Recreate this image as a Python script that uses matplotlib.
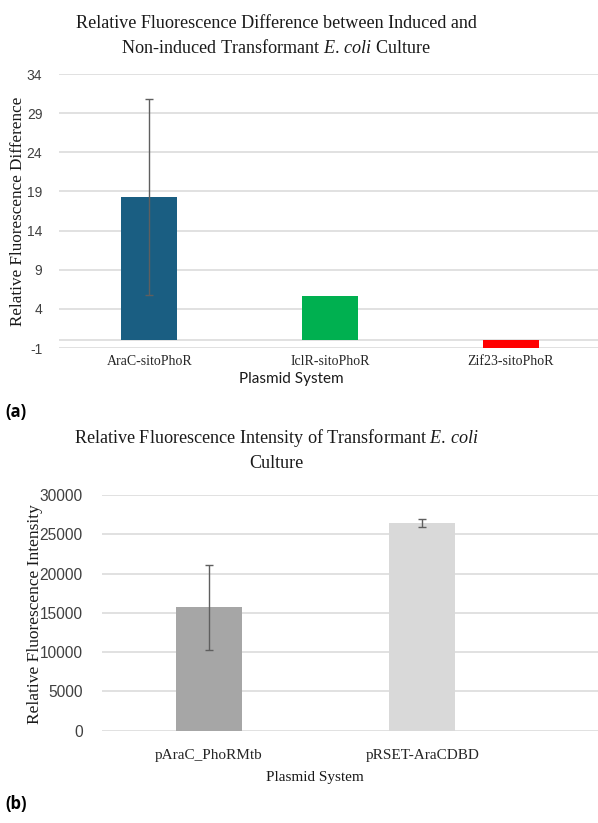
import numpy as np
import matplotlib.pyplot as plt

plt.rcParams['mathtext.fontset'] = 'custom'
plt.rcParams['mathtext.rm'] = 'Liberation Serif'
plt.rcParams['mathtext.it'] = 'Liberation Serif:italic'
plt.rcParams['axes.unicode_minus'] = False

# panel (a)
systems_a = ['AraC-sitoPhoR', 'IclR-sitoPhoR', 'Zif23-sitoPhoR']
diff_a = [18.3, 5.7, -0.95]
err_a = [12.5, 0, 0]
colors_a = ['#1a5e82', '#00b050', '#ff0000']
yticks_a = [-1, 4, 9, 14, 19, 24, 29, 34]

# panel (b)
systems_b = ['pAraC_PhoRMtb', 'pRSET-AraCDBD']
intensity_b = [15700, 26400]
err_b = [5450, 490]
colors_b = ['#a6a6a6', '#d9d9d9']
yticks_b = [0, 5000, 10000, 15000, 20000, 25000, 30000]

W, H = 598, 823
fig = plt.figure(figsize=(W / 100, H / 100), dpi=100)

serif = 'Liberation Serif'
sans = 'Liberation Sans'
grid_c = '#d9d9d9'


def style(ax, yticks, ysize, xsize):
    for s in ax.spines.values():
        s.set_visible(False)
    ax.set_yticks(yticks)
    ax.yaxis.grid(True, color=grid_c, lw=1.1)
    ax.set_axisbelow(True)
    ax.tick_params(length=0, colors='#404040')
    for lab in ax.get_yticklabels():
        lab.set_fontfamily(sans)
        lab.set_fontsize(ysize)
    for lab in ax.get_xticklabels():
        lab.set_fontfamily(serif)
        lab.set_fontsize(xsize)
        lab.set_color('#262626')


# ---- top chart
ax1 = fig.add_axes([59 / W, 1 - 348 / H, 542 / W, 274 / H])
x = np.arange(len(systems_a))
ax1.bar(x, diff_a, width=0.31, color=colors_a, zorder=2)
ax1.errorbar(x[:1], diff_a[:1], yerr=err_a[:1], fmt='none', ecolor='#5f5f5f',
             elinewidth=1, capsize=3, capthick=1, zorder=3)
ax1.axhline(0, color=grid_c, lw=1.1, zorder=1)
ax1.set_xlim(-0.5, 2.5)
ax1.set_ylim(-1, 34)
ax1.set_xticks(x)
ax1.set_xticklabels(systems_a)
style(ax1, yticks_a, 10, 10)
ax1.tick_params(axis='y', pad=12)
ax1.tick_params(axis='x', pad=5)

fig.text(276 / W, 1 - 28 / H, 'Relative Fluorescence Difference between Induced and',
         ha='center', va='baseline', family=serif, fontsize=13.1, color='#1a1a1a')
fig.text(276 / W, 1 - 53 / H, r'Non-induced Transformant $\mathit{E.\,coli}$ Culture',
         ha='center', va='baseline', family=serif, fontsize=13.1, color='#1a1a1a')
fig.text(291 / W, 1 - 383 / H, 'Plasmid System', ha='center', va='baseline',
         family='Lato', fontsize=11, color='#1a1a1a')
fig.text(18 / W, 1 - 211 / H, 'Relative Fluorescence Difference', ha='center',
         va='center', rotation=90, family=serif, fontsize=12.3, color='#1a1a1a')
fig.text(5 / W, 1 - 417 / H, '(a)', ha='left', va='baseline', family='Open Sans',
         fontweight='bold', fontsize=12)

# ---- bottom chart
ax2 = fig.add_axes([102 / W, 1 - 730.7 / H, 496 / W, 235.7 / H])
x = np.arange(len(systems_b))
ax2.bar(x, intensity_b, width=0.31, color=colors_b, zorder=2)
ax2.errorbar(x, intensity_b, yerr=err_b, fmt='none', ecolor='#5f5f5f',
             elinewidth=1, capsize=3, capthick=1, zorder=3)
ax2.set_xlim(-0.5, -0.5 + 496 / 213.5)
ax2.set_ylim(0, 30000)
ax2.set_xticks(x)
ax2.set_xticklabels(systems_b)
style(ax2, yticks_b, 11.2, 11)
ax2.tick_params(axis='y', pad=14)
ax2.tick_params(axis='x', pad=13)

fig.text(276 / W, 1 - 443 / H, r'Relative Fluorescence Intensity of Transformant $\mathit{E.\,coli}$',
         ha='center', va='baseline', family=serif, fontsize=13.1, color='#1a1a1a')
fig.text(276 / W, 1 - 468 / H, 'Culture', ha='center', va='baseline',
         family=serif, fontsize=13.1, color='#1a1a1a')
fig.text(315 / W, 1 - 781 / H, 'Plasmid System', ha='center', va='baseline',
         family=serif, fontsize=11, color='#1a1a1a')
fig.text(35 / W, 1 - 614 / H, 'Relative Fluorescence Intensity', ha='center',
         va='center', rotation=90, family=serif, fontsize=12.5, color='#1a1a1a')
fig.text(5 / W, 1 - 809 / H, '(b)', ha='left', va='baseline', family='Open Sans',
         fontweight='bold', fontsize=12)

fig.savefig('out.png', dpi=100)
